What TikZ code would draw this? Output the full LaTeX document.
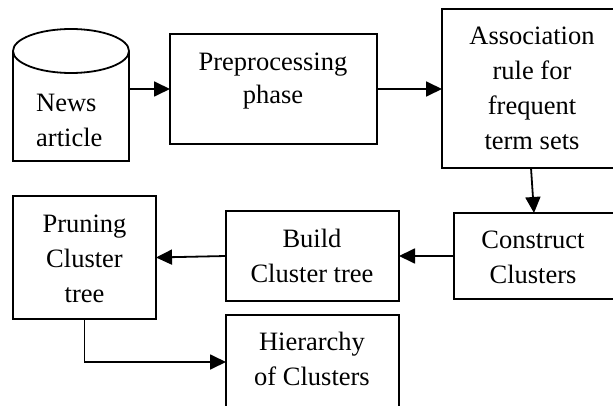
\documentclass[tikz,border=0pt]{standalone}
\usepackage{fontspec}
\setmainfont{Liberation Serif}
\usetikzlibrary{arrows.meta,calc}
\begin{document}
\begin{tikzpicture}[x=1pt,y=-1pt,
  box/.style={draw,line width=1.8pt,anchor=north west,outer sep=0pt,inner sep=0pt},
  txt/.style={font=\fontsize{26.5}{35}\selectfont,align=center,anchor=base,inner sep=0pt},
  arr/.style={line width=1.8pt,-{Triangle[length=16pt,width=15pt]}}]
\clip (0,0) rectangle (613,406);
% cylinder
\node[anchor=north west,minimum width=116,minimum height=132,inner sep=0pt,outer sep=0pt] (news) at (13,29) {};
\draw[line width=1.8pt] (71,51) ellipse [x radius=58, y radius=22];
\draw[line width=1.8pt] (13,51) -- (13,161) -- (129,161) -- (129,51);
% boxes
\node[box,minimum width=207,minimum height=110] (pre) at (170,34) {};
\node[box,minimum width=180,minimum height=159] (assoc) at (442,9) {};
\node[box,minimum width=175,minimum height=86] (cons) at (454,213) {};
\node[box,minimum width=173,minimum height=90] (build) at (226,211) {};
\node[box,minimum width=143,minimum height=123] (prune) at (13,196) {};
\node[box,minimum width=173,minimum height=115] (hier) at (226,315) {};
% texts (anchor at baseline of the last line)
\node[txt,align=left,anchor=base west] (tnews) at (36,147) {News\\article};
\node[txt,font=\fontsize{26.5}{33}\selectfont] (tpre) at (273,104) {Preprocessing\\phase};
\node[txt] (tassoc) at (532,150) {Association\\rule for\\frequent\\term sets};
\node[txt] (tcons) at (533,283) {Construct\\Clusters};
\node[txt] (tbuild) at (312,282) {Build\\Cluster tree};
\node[txt] (tprune) at (84.5,302) {Pruning\\Cluster\\tree};
\node[txt] (thier) at (312,385) {Hierarchy\\of Clusters};
% connectors
\draw[arr] (pre.west -| news.east) -- (pre.west);
\draw[arr] (pre.east) -- (assoc.west |- pre.east);
\draw[arr] ($(assoc.south west)+(89,0)$) -- ($(cons.north west)+(80,0)$);
\draw[arr] (cons.west) -- (cons.west -| build.east);
\draw[arr] (build.west) -- (prune.east);
\draw[arr] (prune.south) |- ($(hier.north west)+(0,47)$);
\end{tikzpicture}
\end{document}
